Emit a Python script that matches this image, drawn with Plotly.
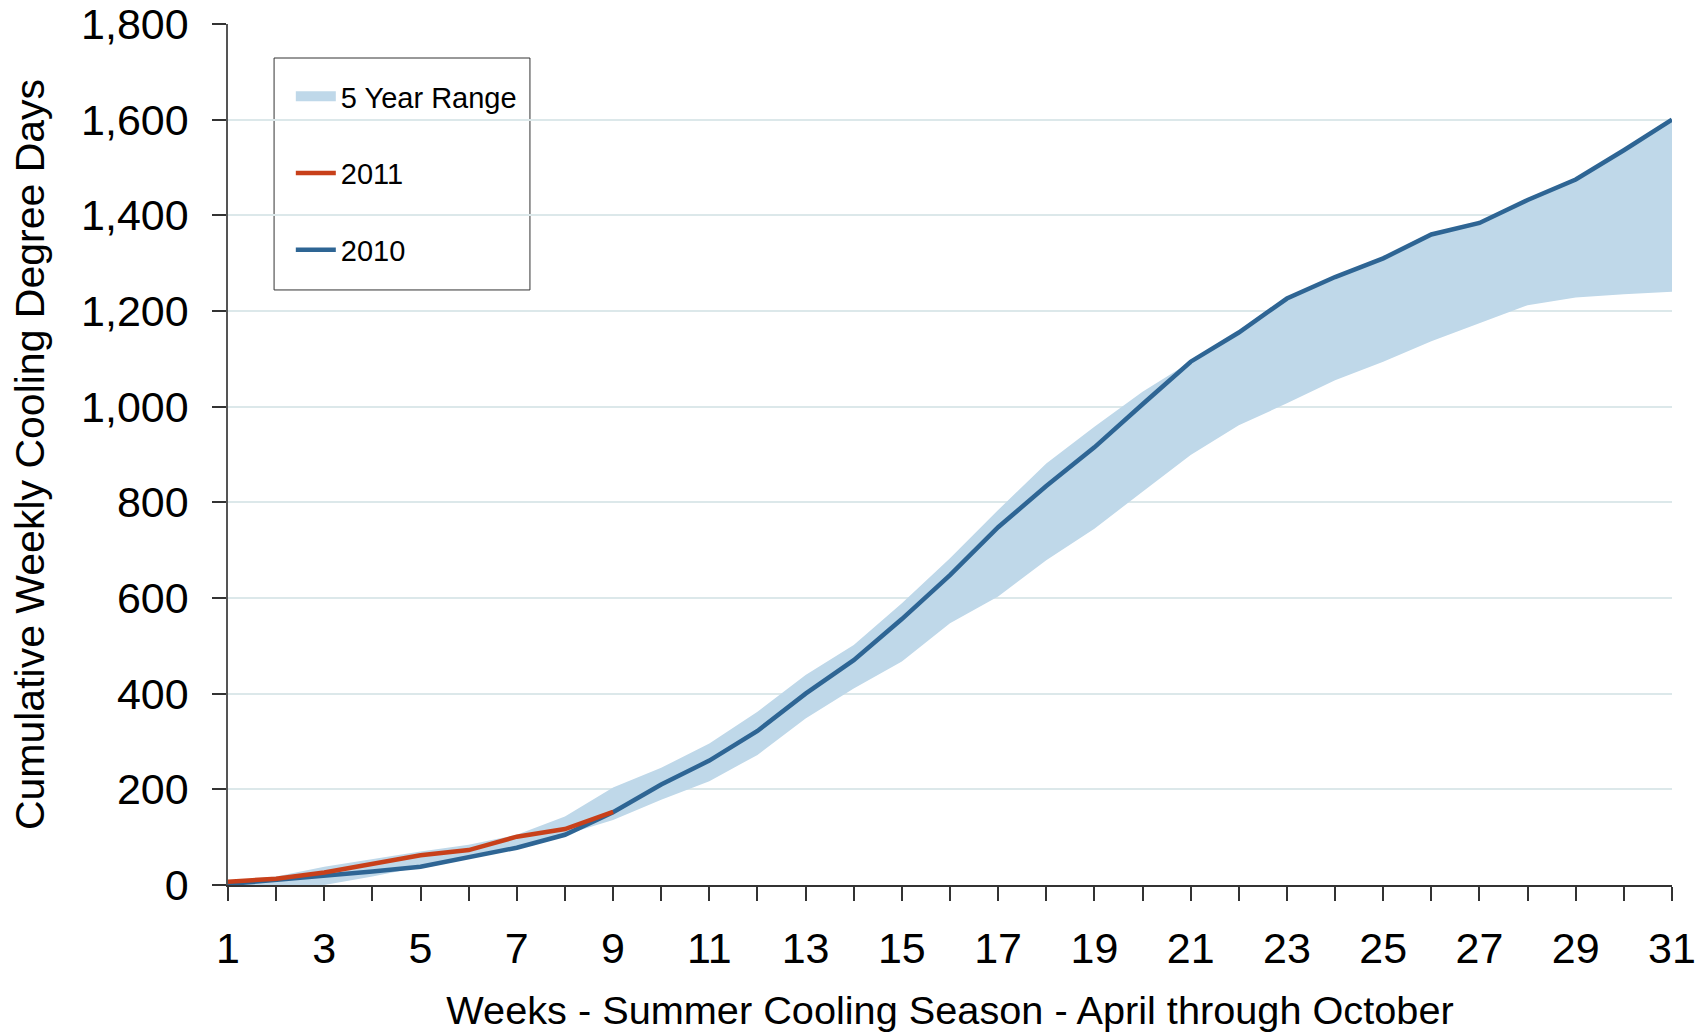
import plotly.graph_objects as go

weeks = list(range(1, 32))
y2010 = [2, 10, 20, 28, 38, 59, 78, 105, 152, 210, 260, 322, 400, 470, 556, 648,
         748, 834, 915, 1005, 1094, 1155, 1226, 1271, 1310, 1360, 1384, 1432, 1475, 1536, 1600]
weeks2011 = list(range(1, 10))
y2011 = [7, 13, 26, 43, 62, 73, 101, 117, 153]
range_upper = [8, 18, 38, 54, 70, 84, 105, 143, 204, 245, 296, 362, 439, 502, 589, 683,
               784, 881, 958, 1031, 1094, 1155, 1226, 1271, 1310, 1360, 1384, 1432, 1475, 1536, 1600]
range_lower = [0, 0, 0, 18, 38, 59, 78, 105, 136, 178, 217, 272, 348, 411, 467, 547,
               603, 679, 745, 822, 899, 961, 1007, 1055, 1094, 1137, 1175, 1212, 1228, 1235, 1240]

BAND = "#bfd8e9"
BLUE = "#2e6594"
RED = "#c8401a"
FONT = "Liberation Sans, Arial, sans-serif"

fig = go.Figure()
fig.add_trace(go.Scatter(x=weeks, y=range_lower, mode="lines", line=dict(width=0, color=BAND),
                         showlegend=False, hoverinfo="skip"))
fig.add_trace(go.Scatter(x=weeks, y=range_upper, mode="lines", line=dict(width=0, color=BAND),
                         fill="tonexty", fillcolor=BAND, name="5 Year Range",
                         showlegend=False, legendgroup="a"))
# legend swatch for the band
fig.add_trace(go.Scatter(x=[None], y=[None], mode="lines", line=dict(width=16, color=BAND),
                         name="5 Year Range", legendgroup="a", legendrank=1))
fig.add_trace(go.Scatter(x=weeks, y=y2010, mode="lines", line=dict(width=4.5, color=BLUE),
                         name="2010", legendgroup="c", legendrank=3))
fig.add_trace(go.Scatter(x=weeks2011, y=y2011, mode="lines", line=dict(width=4.5, color=RED),
                         name="2011", legendgroup="b", legendrank=2))

# legend frame
fig.add_shape(type="rect", xref="paper", yref="paper",
              x0=0.0319, x1=0.2091, y0=0.6911, y1=0.9605,
              line=dict(color="#333333", width=1), fillcolor="white", layer="below")

fig.update_layout(
    width=1696, height=1032,
    margin=dict(l=228, r=24, t=24, b=147, autoexpand=False),
    paper_bgcolor="white", plot_bgcolor="white",
    font=dict(family=FONT, color="black"),
    showlegend=True,
    legend=dict(x=0.0435, y=0.9454, xanchor="left", yanchor="top",
                bgcolor="rgba(0,0,0,0)", borderwidth=0,
                font=dict(size=29, family=FONT), traceorder="grouped",
                tracegroupgap=36, itemwidth=40),
    xaxis=dict(range=[1, 31], tick0=1, dtick=2, showgrid=False, zeroline=False, automargin=False,
               showline=True, linecolor="#333333", linewidth=1.5,
               ticks="outside", ticklen=14, tickcolor="#333333", tickwidth=1.5,
               minor=dict(dtick=1, tick0=1, ticks="outside", ticklen=14, tickcolor="#333333", tickwidth=1.5),
               tickfont=dict(size=43), ticklabelstandoff=11, ticklabeloverflow="allow",
               title=dict(text="Weeks - Summer Cooling Season - April through October",
                          font=dict(size=39.7), standoff=42)),
    yaxis=dict(range=[0, 1800], dtick=200, tickformat=",d", showgrid=True, automargin=False,
               gridcolor="#dce8ea", gridwidth=2, zeroline=False,
               showline=True, linecolor="#555555", linewidth=1.5,
               ticks="outside", ticklen=14, tickcolor="#333333", tickwidth=1.5,
               tickfont=dict(size=43), ticklabelstandoff=15, ticklabeloverflow="allow",
               title=dict(text="Cumulative Weekly Cooling Degree Days",
                          font=dict(size=41), standoff=24)),
)

fig.write_html("out.html", config={"displayModeBar": False},
               post_script="document.body.style.margin='0';")
